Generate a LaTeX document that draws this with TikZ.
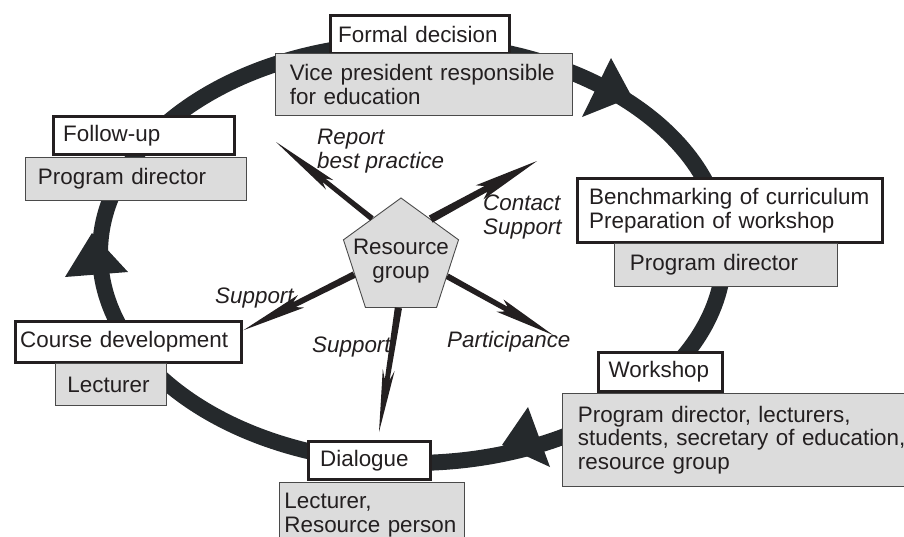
\documentclass[tikz,border=0pt]{standalone}
\usepackage{fontspec}
\setmainfont{Liberation Sans}
\usetikzlibrary{shapes.geometric,calc}
\definecolor{ringc}{HTML}{25292C}
\definecolor{inkc}{HTML}{231F20}
\definecolor{grayf}{HTML}{DCDCDC}
\definecolor{grayl}{HTML}{4A4A4A}
% spear-shaped spoke: #1 start, #2 end, #3 barb pos, #4 joint pos, #5 base half-width, #6 joint half-width, #7 barb half-width
\newcommand\spear[7]{%
  \path (#1) -- (#2) coordinate[pos=#3] (spb) coordinate[pos=#4] (spj);
  \fill[spokec] ($(#1)!#5pt!90:(#2)$) -- ($(spj)!#6pt!90:(#2)$) -- ($(spb)!#7pt!90:(#2)$) -- (#2)
    -- ($(spb)!#7pt!-90:(#2)$) -- ($(spj)!#6pt!-90:(#2)$) -- ($(#1)!#5pt!-90:(#2)$) -- cycle;}
\begin{document}
\begin{tikzpicture}[x=1pt,y=-1pt,
  txt/.style={font=\fontsize{22.4}{23.5}\selectfont, text=inkc},
  whitebox/.style={txt, draw=inkc, line width=3.4pt, fill=white, anchor=north west, inner ysep=0pt, align=left},
  graybox/.style={txt, draw=grayl, line width=0.9pt, fill=grayf, anchor=north west, inner ysep=0pt, align=left},
  lbl/.style={txt, font=\fontsize{22.4}{23.5}\selectfont\itshape, inner sep=0pt, align=left},
  ring/.style={draw=ringc, line width=16pt},
  head/.style={fill=ringc},
  spokec/.style={fill=inkc},
  pent/.style={regular polygon, regular polygon sides=5, minimum size=121pt, inner sep=0pt, fill=grayf, draw=grayl, line width=0.9pt}]
\useasboundingbox (0,0) rectangle (904,536);
% cycle ring
\draw[ring] (412,253) ellipse [x radius=312pt, y radius=210pt];
\fill[head] (632,97) -- (611,58) -- (582,117) -- cycle;
\fill[head] (92,233) -- (128,272) -- (65,277) -- cycle;
\fill[head] (502,445) -- (528,407) -- (550,467) -- cycle;
% boxes
\node[whitebox, inner xsep=7.5pt, text width=164pt, minimum height=37.5pt] (fd) at (329,14) {Formal decision};
\node[graybox, inner xsep=14.5pt, text width=268pt, minimum height=62pt] (vp) at (275,53) {Vice president responsible\\for education};
\node[whitebox, inner xsep=9.5pt, text width=162pt, minimum height=38pt] (fu) at (52,115) {Follow-up};
\node[graybox, inner xsep=12.5pt, text width=196pt, minimum height=43pt] (pd1) at (25,157) {Program director};
\node[whitebox, inner xsep=11.5pt, text width=282pt, minimum height=64pt] (bm) at (576,177) {Benchmarking of curriculum\\Preparation of workshop};
\node[graybox, inner xsep=15.5pt, text width=192pt, minimum height=43pt] (pd2) at (614,243) {Program director};
\node[whitebox, inner xsep=10pt, text width=104pt, minimum height=39pt] (ws) at (597,351) {Workshop};
\node[graybox, inner xsep=15.5pt, text width=330pt, minimum height=93pt] (wsg) at (562,393) {Program director, lecturers,\\students, secretary of education,\\resource group};
\node[whitebox, inner xsep=4.5pt, text width=217pt, minimum height=41pt] (cd) at (14,320) {Course development};
\node[graybox, inner xsep=12pt, text width=87pt, minimum height=42pt] (lec) at (55,363) {Lecturer};
\node[whitebox, inner xsep=11.5pt, text width=99pt, minimum height=38pt] (dl) at (307,440) {Dialogue};
\node[graybox, inner xsep=5pt, text width=175pt, minimum height=65pt] (lrp) at (279,482) {Lecturer,\\Resource person};
% resource group
\node[pent] (rg) at (401,258.5) {};
\node[txt, align=center, inner sep=0pt] (rgt) at (401,261) {Resource\\group};
% spoke ends
\coordinate (eRep) at (276,142);
\coordinate (eCon) at (537,161);
\coordinate (eSupL) at ([yshift=12pt]cd.east);
\coordinate (ePar) at (553,335);
\coordinate (eSupB) at (379,432);
\spear{rg.126}{eRep}{0.44}{0.5}{2.8}{2.3}{6}
\spear{rg.53}{eCon}{0.46}{0.52}{4}{3.2}{8}
\spear{rg.199}{eSupL}{0.48}{0.54}{3.4}{2.8}{7}
\spear{rg.339}{ePar}{0.5}{0.56}{3}{2.6}{7}
\spear{rg.267}{eSupB}{0.5}{0.58}{3.6}{2.4}{6}
% labels
\node[lbl, anchor=west] (lRep) at (317,151) {Report\\best practice};
\node[lbl, anchor=west] (lCon) at (483,217) {Contact\\Support};
\node[lbl, anchor=base west] (lSupL) at (215,303) {Support};
\node[lbl, anchor=base west] (lPar) at (447,347) {Participance};
\node[lbl, anchor=base west] (lSupB) at (312,352) {Support};
\end{tikzpicture}
\end{document}
